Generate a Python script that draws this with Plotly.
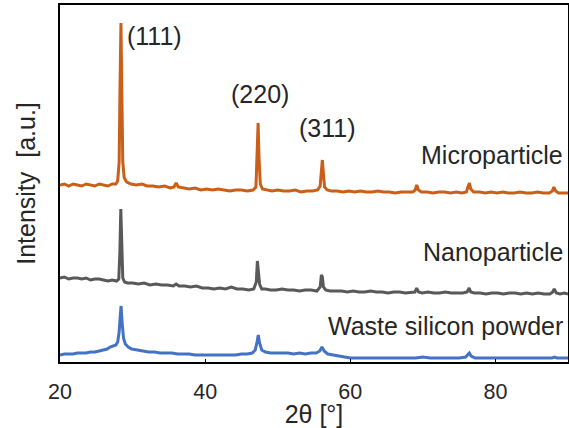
import plotly.graph_objects as go

# ---- Data (2θ in degrees, intensity in arbitrary units, offset stacked) ----
micro_2theta = [20.0, 20.6, 21.2, 21.8, 22.4, 23.0, 23.6, 24.2, 24.8, 25.4, 26.0, 26.6, 27.2, 27.7,
                27.95, 28.15, 28.28, 28.4, 28.52, 28.65, 28.85, 29.2, 29.8, 30.5, 31.3, 32.0, 32.8,
                33.6, 34.4, 35.2, 35.7, 36.0, 36.3, 37.0, 37.8, 38.6, 39.4, 40.2, 41.0, 41.8, 42.6,
                43.4, 44.2, 45.0, 45.8, 46.6, 47.0, 47.18, 47.3, 47.42, 47.6, 47.9, 48.4, 49.2,
                50.0, 50.8, 51.6, 52.4, 53.2, 54.0, 54.8, 55.5, 55.85, 56.02, 56.15, 56.28, 56.45,
                56.8, 57.4, 58.2, 59.0, 59.8, 60.6, 61.4, 62.2, 63.0, 63.8, 64.6, 65.4, 66.2, 67.0,
                67.8, 68.6, 68.95, 69.15, 69.4, 69.8, 70.6, 71.4, 72.2, 73.0, 73.8, 74.6, 75.4,
                76.0, 76.25, 76.42, 76.6, 77.0, 77.8, 78.6, 79.4, 80.2, 81.0, 81.8, 82.6, 83.4,
                84.2, 85.0, 85.8, 86.6, 87.4, 87.85, 88.05, 88.3, 88.7, 89.3, 90.0]
micro_int = [177, 178, 176, 178, 177, 176, 178, 177, 176, 178, 177, 176, 178, 178,
             181, 200, 280, 339, 270, 200, 184, 180, 178, 177, 178, 176, 176,
             175, 176, 174, 175, 179, 175, 174, 173, 174, 172, 173, 172, 173, 172,
             171, 172, 172, 171, 172, 175, 205, 239, 205, 178, 173, 172, 171,
             172, 171, 171, 172, 170, 171, 171, 172, 176, 195, 202, 190, 175,
             172, 171, 171, 170, 171, 170, 171, 170, 170, 171, 170, 170, 169, 170,
             170, 170, 172, 177, 172, 170, 170, 169, 170, 170, 169, 170, 169,
             170, 176, 179, 173, 170, 170, 169, 170, 169, 170, 169, 169, 170,
             169, 169, 170, 169, 169, 171, 175, 171, 169, 169, 169]

nano_2theta = [20.0, 20.6, 21.2, 21.8, 22.4, 23.0, 23.6, 24.2, 24.8, 25.4, 26.0, 26.6, 27.2, 27.8,
               28.1, 28.25, 28.38, 28.5, 28.65, 28.9, 29.3, 30.0, 30.8, 31.6, 32.4, 33.2, 34.0,
               34.8, 35.6, 36.0, 36.4, 37.2, 38.0, 38.8, 39.6, 40.4, 41.2, 42.0, 42.8, 43.6,
               44.4, 45.2, 46.0, 46.7, 47.05, 47.2, 47.35, 47.5, 47.8, 48.3, 49.0, 49.8, 50.6,
               51.4, 52.2, 53.0, 53.8, 54.6, 55.4, 55.85, 56.02, 56.15, 56.3, 56.6, 57.2, 58.0,
               58.8, 59.6, 60.4, 61.2, 62.0, 62.8, 63.6, 64.4, 65.2, 66.0, 66.8, 67.6, 68.4,
               68.9, 69.15, 69.4, 69.9, 70.7, 71.5, 72.3, 73.1, 73.9, 74.7, 75.5, 76.1, 76.38,
               76.6, 77.1, 77.9, 78.7, 79.5, 80.3, 81.1, 81.9, 82.7, 83.5, 84.3, 85.1, 85.9,
               86.7, 87.5, 87.9, 88.1, 88.4, 88.9, 89.5, 90.0]
nano_int = [84, 85, 83, 84, 84, 83, 84, 82, 83, 83, 82, 81, 82, 81,
            83, 110, 153, 112, 84, 80, 79, 79, 78, 79, 77, 78, 77,
            77, 76, 78, 76, 76, 75, 76, 74, 74, 73, 74, 73, 75,
            73, 73, 72, 73, 80, 101, 92, 78, 73, 73, 72, 72, 73,
            72, 72, 71, 72, 72, 71, 75, 87, 85, 75, 72, 71, 71,
            71, 70, 71, 70, 70, 71, 70, 70, 69, 70, 70, 69, 70,
            70, 74, 70, 69, 70, 69, 69, 70, 69, 69, 69, 70, 74,
            70, 69, 69, 68, 69, 69, 68, 69, 69, 68, 69, 68, 69,
            68, 68, 70, 73, 69, 68, 69, 68]

waste_2theta = [20.0, 20.6, 21.2, 21.8, 22.4, 23.0, 23.6, 24.2, 24.8, 25.4, 26.0, 26.5, 26.9, 27.3,
                27.7, 27.95, 28.15, 28.3, 28.42, 28.55, 28.75, 29.0, 29.4, 29.9, 30.6, 31.4, 32.2,
                33.0, 33.8, 34.6, 35.4, 36.2, 37.0, 37.8, 38.6, 39.4, 40.2, 41.0, 41.8, 42.6,
                43.4, 44.2, 45.0, 45.8, 46.5, 46.9, 47.15, 47.32, 47.5, 47.8, 48.3, 49.0, 49.8,
                50.6, 51.4, 52.2, 53.0, 53.8, 54.6, 55.3, 55.8, 56.1, 56.4, 56.9, 57.6, 58.4,
                59.2, 60.0, 61.0, 62.0, 63.0, 64.0, 65.0, 66.0, 67.0, 68.0, 69.0, 70.0, 71.0,
                72.0, 73.0, 74.0, 75.0, 75.9, 76.2, 76.4, 76.65, 77.2, 78.0, 79.0, 80.0, 81.0,
                82.0, 83.0, 84.0, 85.0, 86.0, 87.0, 87.8, 88.1, 88.5, 89.2, 90.0]
waste_int = [7, 8, 8, 8, 9, 9, 9, 10, 10, 11, 12, 13, 15, 16,
             17, 20, 30, 46, 56, 40, 24, 18, 15, 13, 12, 11, 10,
             10, 9, 9, 9, 8, 8, 8, 7, 7, 7, 7, 7, 7,
             7, 7, 8, 8, 9, 12, 20, 27, 19, 12, 10, 9, 9,
             9, 9, 8, 9, 8, 9, 9, 11, 15, 11, 8, 7, 6,
             5, 4, 4, 4, 4, 4, 4, 4, 4, 4, 4, 5, 4,
             4, 4, 4, 4, 5, 7, 9, 6, 4, 4, 4, 4, 4,
             4, 4, 4, 4, 4, 4, 4, 5, 4, 4, 4]

series_names = ["Microparticle", "Nanoparticle", "Waste silicon powder"]
series_colors = ["#C95F18", "#595959", "#4472C4"]

peak_labels = ["(111)", "(220)", "(311)"]
peak_label_x = [29.0, 47.5, 56.9]
peak_label_y = [326, 268, 234]

name_label_y = [207, 110, 36]

x_ticks = [20, 40, 60, 80]

fig = go.Figure()
for xs, ys, name, col in [(micro_2theta, micro_int, series_names[0], series_colors[0]),
                          (nano_2theta, nano_int, series_names[1], series_colors[1]),
                          (waste_2theta, waste_int, series_names[2], series_colors[2])]:
    fig.add_trace(go.Scatter(x=xs, y=ys, mode="lines", name=name,
                             line=dict(color=col, width=3), showlegend=False))

font_family = "Liberation Sans, Arial, sans-serif"
txt_col = "#262626"

annotations = []
for i, lab in enumerate(peak_labels):
    annotations.append(dict(x=peak_label_x[i], y=peak_label_y[i], xref="x", yref="y",
                            text=lab, showarrow=False, xanchor="left" if i == 0 else "center",
                            yanchor="middle", font=dict(size=25, color=txt_col, family=font_family)))
for i, lab in enumerate(series_names):
    annotations.append(dict(x=89.6, y=name_label_y[i], xref="x", yref="y",
                            text=lab, showarrow=False, xanchor="right", yanchor="middle",
                            font=dict(size=25, color=txt_col, family=font_family)))

fig.update_layout(
    width=569, height=428,
    margin=dict(l=60, r=1, t=5, b=66, autoexpand=False),
    paper_bgcolor="white", plot_bgcolor="white",
    font=dict(family=font_family, color=txt_col),
    annotations=annotations,
    xaxis=dict(range=[20, 90], tickvals=x_ticks, ticktext=[str(t) for t in x_ticks],
               showgrid=False, zeroline=False, showline=True, linecolor="black", linewidth=2,
               mirror=True, ticks="inside", ticklen=3, tickcolor="black",
               ticklabelstandoff=9,
               tickfont=dict(size=21.5, color=txt_col),
               title=dict(text="2θ [°]", font=dict(size=25, color=txt_col), standoff=5)),
    yaxis=dict(range=[0, 357], showticklabels=False, showgrid=False, zeroline=False,
               showline=True, linecolor="black", linewidth=2, mirror=True, ticks="",
               title=dict(text="Intensity  [a.u.]", font=dict(size=25, color=txt_col), standoff=15)),
)

fig.write_html("out.html", config={"displayModeBar": False},
               post_script="document.body.style.margin='0';document.body.style.padding='0';document.documentElement.style.overflow='hidden';")
